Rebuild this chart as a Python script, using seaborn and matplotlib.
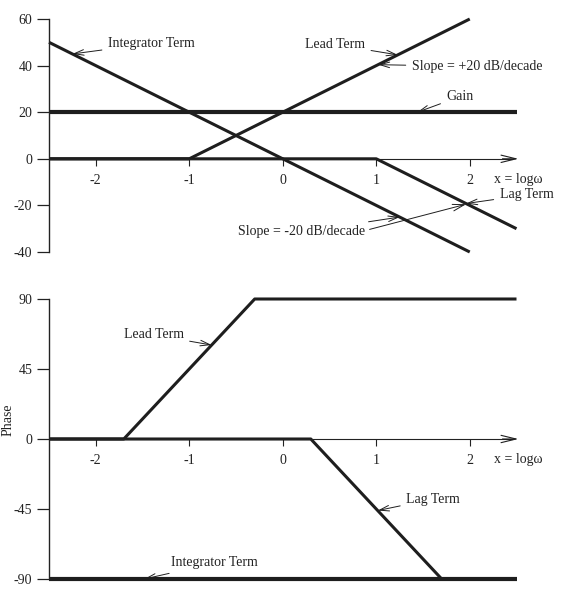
import matplotlib
matplotlib.use("Agg")
import matplotlib.pyplot as plt
import seaborn as sns
import pandas as pd

# ---- data (x = log10 omega) ----
mag_integrator_x = [-2.5, 2.0]
mag_integrator_y = [50, -40]
mag_lead_x = [-2.5, -1.0, 2.0]
mag_lead_y = [0, 0, 60]
mag_lag_x = [-2.5, 1.0, 2.5]
mag_lag_y = [0, 0, -30]
mag_gain_x = [-2.5, 2.5]
mag_gain_y = [20, 20]

ph_lead_x = [-2.5, -1.7, -0.3, 2.5]
ph_lead_y = [0, 0, 90, 90]
ph_lag_x = [-2.5, 0.3, 1.7, 2.5]
ph_lag_y = [0, 0, -90, -90]
ph_integrator_x = [-2.5, 2.5]
ph_integrator_y = [-90, -90]

x_ticks = [-2, -1, 0, 1, 2]
mag_ticks = [-40, -20, 0, 20, 40, 60]
ph_ticks = [-90, -45, 0, 45, 90]

sns.set_theme(style="white")
plt.rcParams["font.family"] = ["Liberation Serif", "DejaVu Serif"]
plt.rcParams["axes.edgecolor"] = "#222222"
plt.rcParams["text.color"] = "#222222"
plt.rcParams["xtick.color"] = "#222222"
plt.rcParams["ytick.color"] = "#222222"

INK = "#1e1e1e"
FS = 10

fig = plt.figure(figsize=(5.66, 5.94), dpi=100)
left = 49 / 566
width = 5.02 * 93.5 / 566
ax1 = fig.add_axes([left, 1 - 252 / 594, width, 233 / 594])
ax2 = fig.add_axes([left, 1 - 579 / 594, width, 280 / 594])


def style_axes(ax, yticks, ylim):
    ax.set_xlim(-2.5, 2.52)
    ax.set_ylim(*ylim)
    for s in ["top", "right"]:
        ax.spines[s].set_visible(False)
    ax.spines["left"].set_linewidth(1.0)
    ax.spines["bottom"].set_position(("data", 0))
    ax.spines["bottom"].set_linewidth(0.8)
    ax.spines["bottom"].set_bounds(-2.5, 2.45)
    ax.set_xticks(x_ticks)
    ax.set_xticklabels([str(t) for t in x_ticks], fontsize=FS)
    ax.set_yticks(yticks)
    ax.set_yticklabels([str(t) for t in yticks], fontsize=FS)
    ax.tick_params(axis="x", direction="out", length=5, width=0.8, pad=6, bottom=True)
    ax.tick_params(axis="y", direction="out", length=9, width=0.9, pad=3, left=True)
    ax.set_xlabel("")
    ax.set_ylabel("")
    ax.annotate("", xy=(2.52, 0), xytext=(2.35, 0),
                arrowprops=dict(arrowstyle="->,head_length=0.9,head_width=0.22",
                                lw=0.8, color=INK, shrinkA=0, shrinkB=0),
                annotation_clip=False)
    ax.grid(False)


def draw(ax, xs, ys, lw):
    sns.lineplot(x=xs, y=ys, ax=ax, color=INK, lw=lw, sort=False,
                 estimator=None, clip_on=False, solid_capstyle="butt")


ARROW = "->,head_length=0.7,head_width=0.2"


def note(ax, text, txy, pxy, ha="left"):
    ax.annotate(text, xy=pxy, xytext=txy, fontsize=FS, ha=ha, va="center",
                arrowprops=dict(arrowstyle=ARROW, lw=0.7, color=INK,
                                shrinkA=2, shrinkB=0),
                annotation_clip=False)


# ---- magnitude ----
draw(ax1, mag_lag_x, mag_lag_y, 2.2)
draw(ax1, mag_lead_x, mag_lead_y, 2.2)
draw(ax1, mag_integrator_x, mag_integrator_y, 2.2)
draw(ax1, mag_gain_x, mag_gain_y, 3.0)
style_axes(ax1, mag_ticks, (-40, 60))

note(ax1, "Integrator Term", (-1.87, 49.5), (-2.25, 45.0))
note(ax1, "Lead Term", (0.88, 49.0), (1.23, 44.6), ha="right")
note(ax1, "Slope = +20 dB/decade", (1.38, 39.6), (1.02, 40.4))
note(ax1, "Gain", (1.75, 26.7), (1.44, 20.0))
note(ax1, "Lag Term", (2.32, -15.5), (1.96, -19.2))
ax1.text(2.26, -9.0, "x = logω", fontsize=FS, ha="left", va="center")
note(ax1, "Slope = -20 dB/decade", (0.88, -31.4), (1.25, -25.0), ha="right")
ax1.annotate("", xy=(1.96, -19.5), xytext=(0.9, -30.6),
             arrowprops=dict(arrowstyle=ARROW, lw=0.7, color=INK,
                             shrinkA=2, shrinkB=0),
             annotation_clip=False)

# ---- phase ----
draw(ax2, ph_lag_x, ph_lag_y, 2.2)
draw(ax2, ph_lead_x, ph_lead_y, 2.2)
draw(ax2, ph_integrator_x, ph_integrator_y, 3.0)
style_axes(ax2, ph_ticks, (-90, 90))

note(ax2, "Lead Term", (-1.06, 66.9), (-0.76, 60.4), ha="right")
note(ax2, "Lag Term", (1.32, -38.6), (1.016, -46.0))
note(ax2, "Integrator Term", (-1.19, -79.7), (-1.48, -90.0))
ax2.text(2.26, -13.5, "x = logω", fontsize=FS, ha="left", va="center")

fig.text(2 / 566, 1 - 420 / 594, "Phase", rotation=90, ha="left", va="center",
         fontsize=FS)

fig.savefig("out.png", dpi=100)
